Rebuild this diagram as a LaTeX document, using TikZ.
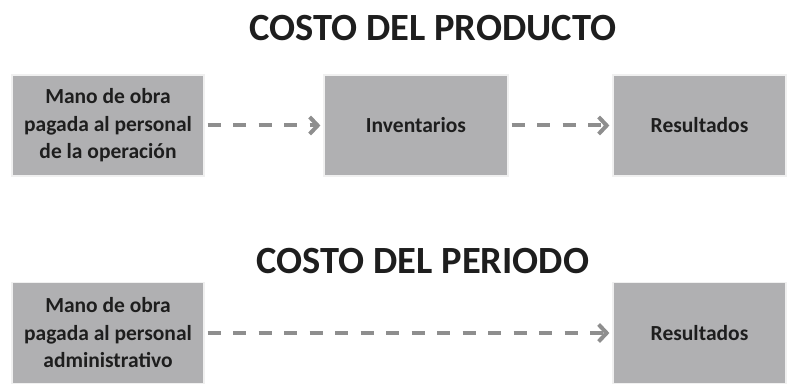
\documentclass[tikz,border=0pt]{standalone}
\usepackage{fontspec}
\setmainfont{Carlito}
\usetikzlibrary{arrows.meta}
\definecolor{boxgray}{HTML}{B0B0B2}
\definecolor{arrgray}{HTML}{8E8E8E}
\definecolor{txt}{HTML}{1E1E1E}
\tikzset{
  cbox/.style={draw=black!6, line width=1.2pt, fill=boxgray, minimum height=101pt, inner sep=0pt,
    align=center, text=txt, font=\bfseries\fontsize{21.5}{27.5}\selectfont},
  title/.style={text=txt, font=\bfseries\fontsize{38.5}{44}\selectfont, inner sep=0pt},
  flow/.style={draw=arrgray, line width=4pt, dash pattern=on 13pt off 12.5pt,
    -{Straight Barb[length=8pt,width=17pt,line width=4pt]}}
}
\begin{document}
\begin{tikzpicture}[x=1pt,y=-1pt]
\useasboundingbox (0,0) rectangle (791,387);
\node[title] (t1) at (433,28) {COSTO DEL PRODUCTO};
\node[title] (t2) at (423,261) {COSTO DEL PERIODO};
\node[cbox, minimum width=192pt] (b1) at (108,125.5) {Mano de obra\\pagada al personal\\de la operación};
\node[cbox, minimum width=184pt] (b2) at (416,125.5) {Inventarios};
\node[cbox, minimum width=173pt] (b3) at (699.5,125.5) {Resultados};
\node[cbox, minimum width=192pt] (b4) at (108,333) {Mano de obra\\pagada al personal\\administrativo};
\node[cbox, minimum width=173pt] (b5) at (699.5,333) {Resultados};
\draw[flow] ([xshift=3pt]b1.east) -- ([xshift=-3pt]b2.west);
\draw[flow] ([xshift=3pt]b2.east) -- ([xshift=-3pt]b3.west);
\draw[flow] ([xshift=3pt]b4.east) -- ([xshift=-3pt]b5.west);
\end{tikzpicture}
\end{document}
